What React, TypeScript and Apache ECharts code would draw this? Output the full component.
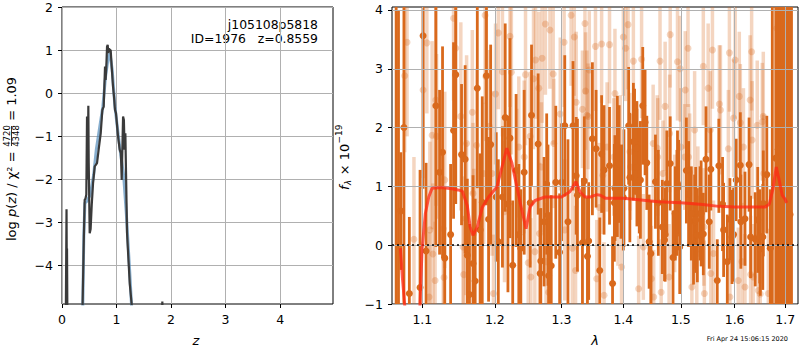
import React, { useEffect, useRef } from 'react';
import * as echarts from 'echarts';

const FONT = 'DejaVu Sans';

const zTicks = [0, 1, 2, 3, 4];
const logpTicks = [-4, -3, -2, -1, 0, 1, 2];
const lamTicks = [1.1, 1.2, 1.3, 1.4, 1.5, 1.6, 1.7];
const fluxTicks = [-1, 0, 1, 2, 3, 4];

// log p(z), raw (dark) curve: [z, log p]
const pzRaw = [
  [0.0, -6], [0.068, -5.5], [0.083, -2.69], [0.088, -4.2], [0.092, -3.6], [0.1, -5.5], [0.12, -6],
  [0.35, -6], [0.373, -5.2], [0.40, -3.4], [0.416, -2.47], [0.43, -2.45], [0.446, -2.35], [0.459, -0.54],
  [0.465, -2.0], [0.474, -1.8], [0.483, -0.29], [0.49, -1.6], [0.508, -3.25], [0.525, -3.15],
  [0.545, -2.6], [0.569, -2.1], [0.60, -1.7], [0.642, -1.62], [0.679, -1.24], [0.71, -0.93],
  [0.74, -0.39], [0.765, -0.31], [0.789, 0.62], [0.80, 0.31], [0.813, 0.62], [0.826, 1.08],
  [0.838, 1.12], [0.85, 0.93], [0.862, 1.04], [0.875, 1.0], [0.893, 1.0], [0.911, 0.62],
  [0.936, 0.15], [0.954, -0.08], [0.972, -0.39], [0.99, -0.46], [1.028, -1.0], [1.058, -1.31],
  [1.08, -1.39], [1.095, -2.01], [1.12, -0.54], [1.135, -0.62], [1.148, -1.31], [1.162, -0.93],
  [1.175, -1.9], [1.193, -3.25], [1.242, -4.41], [1.278, -4.9], [1.30, -6],
  [1.82, -6], [1.84, -4.83], [1.86, -6], [4.97, -6],
];

// smoothed (blue) curve
const pzSmooth = [
  [0.37, -6], [0.40, -3.3], [0.42, -2.55], [0.46, -2.5], [0.52, -2.35], [0.58, -1.9], [0.63, -1.3],
  [0.69, -0.8], [0.75, -0.3], [0.80, 0.4], [0.85, 0.85], [0.88, 0.92], [0.92, 0.55], [0.97, -0.3],
  [1.03, -0.95], [1.08, -1.45], [1.13, -1.9], [1.18, -2.8], [1.24, -4.1], [1.30, -5.5], [1.33, -6],
];

// spectrum points: [lambda, flux, error]
const darkPoints = [
  [1.066, 4.5, 6.0], [1.069, -1.5, 5.5], [1.072, 0.58, 1.0], [1.076, 2.0, 3.5], [1.083, -0.82, 1.3],
  [1.097, -0.72, 2.0], [1.101, 3.56, 2.6], [1.105, -0.10, 1.5], [1.118, 2.37, 2.4], [1.123, 1.24, 1.4],
  [1.127, 1.58, 1.8], [1.130, -0.22, 1.2], [1.138, 0.18, 1.2], [1.142, 1.95, 1.5], [1.145, 2.90, 2.2],
  [1.153, 1.54, 1.2], [1.158, 1.46, 1.6], [1.161, -0.17, 1.3], [1.164, -0.84, 1.2], [1.169, -0.31, 1.5],
  [1.172, -0.61, 1.4], [1.175, 2.67, 1.7], [1.179, 0.26, 1.3], [1.182, 0.73, 1.8], [1.188, 2.88, 2.2],
  [1.191, 0.44, 1.4], [1.194, 1.71, 1.7], [1.202, 0.82, 1.1], [1.205, 0.06, 1.4], [1.211, 0.82, 1.2],
  [1.215, 2.17, 1.6], [1.219, 0.70, 1.5], [1.222, 1.82, 1.7], [1.226, -0.34, 1.1], [1.231, 1.27, 1.3],
  [1.235, 0.18, 1.2], [1.238, -0.05, 1.0], [1.243, 1.24, 1.4], [1.252, 0.72, 1.1], [1.254, 2.21, 1.2],
  [1.264, 1.72, 1.2], [1.267, -0.48, 1.1], [1.268, -0.27, 0.9], [1.273, 0.40, 1.1], [1.277, 1.04, 1.2],
  [1.279, 0.51, 1.2], [1.280, -0.52, 1.0], [1.284, -0.35, 1.2], [1.291, 1.07, 1.3], [1.297, -0.12, 1.0],
  [1.300, 1.07, 1.0], [1.305, 2.03, 1.2], [1.310, 0.40, 1.4], [1.318, 2.03, 1.1], [1.323, 1.18, 1.0],
  [1.325, 0.85, 1.3], [1.333, 0.04, 1.1], [1.336, 1.09, 1.1], [1.341, -0.19, 1.0], [1.343, 0.07, 1.0],
  [1.349, 1.81, 1.3], [1.355, 1.64, 1.0], [1.361, -0.43, 0.9], [1.364, 1.55, 1.0], [1.368, 1.28, 1.1],
  [1.377, 1.35, 1.0], [1.382, -0.65, 0.8], [1.385, 0.72, 1.0], [1.386, 0.97, 0.9], [1.390, 1.34, 1.2],
  [1.393, 1.38, 1.0], [1.396, 0.91, 0.8], [1.400, 0.81, 0.9], [1.401, 0.97, 1.0], [1.409, 2.03, 1.0],
  [1.411, 1.15, 1.1], [1.417, 1.76, 1.0], [1.419, 1.76, 0.9], [1.423, 1.65, 0.8], [1.423, 1.32, 1.0],
  [1.427, 1.10, 0.9], [1.429, 1.11, 1.0], [1.433, 2.37, 1.0], [1.437, 2.09, 0.9], [1.440, 1.40, 0.8],
  [1.444, 0.06, 0.8], [1.447, -0.14, 0.9], [1.455, 1.08, 0.8], [1.460, 0.72, 0.9], [1.467, 0.31, 0.8],
  [1.471, 0.09, 0.7], [1.472, 0.18, 0.8], [1.475, 1.05, 0.9], [1.481, 1.39, 0.8], [1.486, -0.21, 0.8],
  [1.490, 0.54, 0.8], [1.493, 0.72, 0.9], [1.494, 1.05, 0.9], [1.496, 0.99, 0.8], [1.498, -0.03, 0.8],
  [1.510, 1.27, 0.9], [1.514, 0.87, 0.9], [1.519, 0.54, 0.8], [1.523, 0.03, 0.7], [1.525, 0.40, 0.8],
  [1.527, 0.43, 0.9], [1.530, 0.17, 0.8], [1.535, 0.54, 0.8], [1.537, 0.54, 0.9], [1.541, 0.19, 0.7],
  [1.546, 1.46, 0.9], [1.552, 0.40, 0.8], [1.555, 1.29, 0.7], [1.567, -0.60, 0.7], [1.570, 1.35, 0.8],
  [1.577, 0.70, 0.8], [1.579, 0.26, 0.8], [1.586, -0.28, 0.8], [1.591, 0.44, 0.7], [1.595, 0.14, 0.8],
  [1.598, 0.18, 0.8], [1.603, 1.11, 0.7], [1.611, 1.36, 0.9], [1.612, 0.40, 0.8], [1.620, 0.45, 0.8],
  [1.628, 1.37, 0.8], [1.631, 0.14, 0.7], [1.640, 0.10, 0.8], [1.645, 0.43, 0.9], [1.649, 0.15, 0.8],
  [1.650, -0.06, 0.8], [1.655, 0.14, 0.9], [1.656, 0.71, 0.9], [1.663, 1.20, 1.0], [1.670, -0.05, 1.0],
  [1.674, 4.6, 6.0], [1.681, 1.48, 5.0], [1.686, 1.63, 5.0], [1.690, -1.3, 6.0], [1.694, 4.3, 6.0],
  [1.698, -0.72, 5.0], [1.703, 0.90, 5.0], [1.706, 4.4, 6.0], [1.710, 0.52, 5.0], [1.713, -1.4, 6.0],
];

const lightPoints = [
  [1.077, 2.88, 1.3], [1.080, 3.45, 1.6], [1.089, 0.10, 1.4], [1.101, 2.64, 1.5], [1.106, 3.44, 1.2],
  [1.109, -0.88, 1.1], [1.110, 0.26, 1.5], [1.113, 1.87, 1.6], [1.114, -0.15, 1.2], [1.117, -0.60, 1.0],
  [1.118, 2.47, 1.8], [1.119, 1.85, 1.4], [1.128, 0.28, 1.3], [1.129, -0.55, 1.1], [1.130, 1.11, 1.5],
  [1.142, 3.86, 1.4], [1.145, 3.35, 1.2], [1.152, 2.19, 1.6], [1.155, -0.03, 1.2], [1.156, -0.50, 1.0],
  [1.159, 0.45, 1.3], [1.160, 1.73, 1.5], [1.168, 2.26, 1.4], [1.169, 0.88, 1.2], [1.170, 0.20, 1.1],
  [1.174, 1.70, 1.3], [1.184, 1.22, 1.2], [1.186, 3.91, 1.5], [1.187, 2.87, 1.1], [1.192, 2.02, 1.3],
  [1.196, 1.22, 1.4], [1.198, -0.82, 1.0], [1.201, 2.57, 1.2], [1.205, 3.61, 1.3], [1.211, 2.95, 1.1],
  [1.214, 0.57, 1.2], [1.222, 3.55, 1.2], [1.224, 2.94, 1.4], [1.232, 1.22, 1.1], [1.235, 1.67, 1.2],
  [1.243, 1.50, 1.3], [1.245, 2.90, 1.2], [1.249, -0.30, 1.0], [1.252, 1.85, 1.1], [1.253, -0.54, 1.0],
  [1.257, 2.83, 1.2], [1.259, -0.11, 1.1], [1.260, 3.15, 1.0], [1.265, 2.67, 1.3], [1.266, 0.20, 1.2],
  [1.269, 1.33, 1.1], [1.270, 3.18, 1.1], [1.275, 3.76, 1.2], [1.276, -0.28, 1.0], [1.280, -0.80, 0.9],
  [1.282, 3.66, 1.0], [1.287, 2.91, 1.2], [1.288, 1.73, 1.1], [1.298, 2.23, 1.3], [1.304, 3.45, 1.1],
  [1.305, 0.26, 1.2], [1.315, 3.91, 1.2], [1.317, -0.05, 1.0], [1.320, 3.54, 1.0], [1.322, -0.43, 1.1],
  [1.323, 2.43, 1.2], [1.333, 2.31, 1.0], [1.337, 3.77, 1.2], [1.338, 2.62, 1.0], [1.340, 2.21, 1.1],
  [1.342, 2.19, 0.9], [1.344, 2.98, 1.0], [1.354, 3.38, 1.1], [1.356, -0.57, 1.0], [1.360, 0.64, 1.1],
  [1.364, 3.42, 1.0], [1.366, 1.19, 1.0], [1.368, -0.85, 0.9], [1.373, 1.67, 1.1], [1.377, 3.41, 1.0],
  [1.384, 1.50, 1.0], [1.386, 2.58, 1.1], [1.391, 0.65, 1.0], [1.395, 1.65, 0.9], [1.397, -0.37, 1.0],
  [1.400, 3.54, 1.0], [1.404, 3.35, 0.9], [1.408, 3.75, 1.1], [1.411, 1.59, 1.0], [1.412, 1.33, 0.9],
  [1.417, 3.13, 1.0], [1.426, -0.74, 0.9], [1.431, 3.16, 1.0], [1.434, -0.03, 0.9], [1.448, -0.57, 0.9],
  [1.451, 1.73, 1.0], [1.452, -0.88, 0.8], [1.458, 1.65, 0.9], [1.459, 1.50, 1.0], [1.463, 3.13, 1.0],
  [1.465, -0.80, 0.9], [1.468, 1.22, 0.9], [1.472, 2.36, 1.1], [1.479, -0.54, 0.9], [1.480, 1.90, 1.0],
  [1.481, 3.58, 0.9], [1.489, 0.54, 1.0], [1.494, 3.12, 1.0], [1.499, 3.00, 0.9], [1.500, 1.67, 1.0],
  [1.507, 1.50, 0.9], [1.508, 2.64, 1.0], [1.513, 3.35, 1.0], [1.514, 1.50, 0.9], [1.516, 1.24, 1.0],
  [1.520, -0.71, 0.9], [1.525, 1.96, 1.0], [1.529, -0.14, 1.0], [1.531, 0.78, 0.9], [1.541, 3.04, 1.0],
  [1.542, 0.31, 1.0], [1.543, -0.82, 0.9], [1.550, 2.67, 1.1], [1.554, 1.96, 1.0], [1.555, -0.48, 0.9],
  [1.558, 3.32, 1.0], [1.560, -0.14, 0.9], [1.571, 2.40, 1.0], [1.573, 2.30, 1.1], [1.588, 1.64, 1.0],
  [1.590, 3.27, 1.0], [1.591, -0.88, 0.9], [1.598, 2.16, 1.0], [1.601, 3.15, 1.0], [1.607, -0.60, 0.9],
  [1.609, 2.53, 1.1], [1.611, 2.08, 1.0], [1.614, -0.28, 1.0], [1.617, 1.67, 1.0], [1.620, -0.71, 0.9],
  [1.630, 2.47, 1.1], [1.631, -0.50, 1.0], [1.633, 3.29, 1.0], [1.634, 1.79, 1.0], [1.636, -0.54, 0.9],
  [1.644, 2.04, 1.1], [1.646, -0.77, 0.9], [1.650, -0.83, 1.0], [1.654, 2.10, 1.0], [1.656, 2.19, 1.1],
  [1.657, 1.22, 1.0], [1.666, -0.82, 1.1], [1.683, 3.69, 1.6], [1.686, 3.75, 2.0], [1.697, -0.71, 2.0],
];

// best-fit model: [lambda, flux]
const modelLine = [
  [1.0715, -0.05], [1.074, -0.55], [1.0775, -1.1], [1.085, -2.5], [1.092, -2.2], [1.097, -1.0],
  [1.0996, -0.08], [1.104, 0.54], [1.1085, 0.82], [1.113, 0.97], [1.125, 0.98], [1.14, 0.96],
  [1.148, 0.94], [1.154, 0.92], [1.161, 0.67], [1.165, 0.31], [1.169, 0.17], [1.175, 0.31],
  [1.182, 0.64], [1.191, 0.82], [1.203, 0.99], [1.208, 1.22], [1.2173, 1.65], [1.2247, 1.4],
  [1.232, 1.0], [1.2394, 0.6], [1.2458, 0.28], [1.2518, 0.65], [1.2593, 0.76], [1.2745, 0.82],
  [1.30, 0.82], [1.313, 0.91], [1.3225, 1.08], [1.329, 0.91], [1.337, 0.82], [1.346, 0.82],
  [1.356, 0.86], [1.362, 0.85], [1.37, 0.80], [1.40, 0.80], [1.43, 0.77], [1.46, 0.74], [1.50, 0.72],
  [1.54, 0.69], [1.57, 0.66], [1.60, 0.65], [1.63, 0.65], [1.66, 0.65], [1.668, 0.70], [1.675, 0.95],
  [1.682, 1.33], [1.688, 1.1], [1.694, 0.85], [1.70, 0.78], [1.703, 0.72],
];

const ORANGE = '#d9691c';
const GRIDC = '#b0b0b0';
const minus = (v: number | string) => String(v).replace('-', '\u2212');

function errorSeries(data: number[][], color: string, opacity: number, width: number, z: number) {
  return {
    type: 'custom',
    xAxisIndex: 1,
    yAxisIndex: 1,
    clip: true,
    z,
    silent: true,
    data: data.map((d) => [d[0], d[1] - d[2], d[1] + d[2]]),
    encode: { x: 0, y: [1, 2] },
    renderItem: (_params: any, api: any) => {
      const x = api.value(0);
      const p1 = api.coord([x, api.value(1)]);
      const p2 = api.coord([x, api.value(2)]);
      return {
        type: 'line',
        shape: { x1: p1[0], y1: p1[1], x2: p2[0], y2: p2[1] },
        style: { stroke: color, lineWidth: width, opacity },
      };
    },
  };
}

const tickLabel = { fontFamily: FONT, fontSize: 12.5, color: '#000' };

export default function App() {
  const ref = useRef<HTMLDivElement>(null);
  useEffect(() => {
    if (!ref.current) return;
    const chart = echarts.init(ref.current, undefined, { renderer: 'svg' });
    const option: any = {
      animation: false,
      backgroundColor: '#fff',
      grid: [
        { left: 62, top: 7, width: 271, height: 297, show: true, borderColor: '#000', borderWidth: 1, backgroundColor: 'transparent' },
        { left: 392, top: 7, width: 406, height: 297, show: true, borderColor: '#000', borderWidth: 1, backgroundColor: 'transparent' },
      ],
      xAxis: [
        {
          type: 'value', gridIndex: 0, min: 0, max: 4.97,
          axisLine: { show: false, onZero: false },
          axisTick: { show: true, length: 4, lineStyle: { color: '#000' }, customValues: zTicks },
          axisLabel: { ...tickLabel, margin: 9, customValues: zTicks, formatter: (v: number) => minus(v) },
          splitLine: { show: true, lineStyle: { color: GRIDC, width: 1 } },
        },
        {
          type: 'log', gridIndex: 1, min: 1.0607, max: 1.7264, logBase: 10, z: 5,
          axisLine: { show: false, onZero: false },
          axisTick: { show: true, length: 4, lineStyle: { color: '#000' }, customValues: lamTicks },
          axisLabel: { ...tickLabel, margin: 9, customValues: lamTicks, formatter: (v: number) => v.toFixed(1) },
          splitLine: { show: true, lineStyle: { color: GRIDC, width: 1 } },
          minorTick: { show: false }, minorSplitLine: { show: false },
        },
      ],
      yAxis: [
        {
          type: 'value', gridIndex: 0, min: -4.89, max: 2,
          axisLine: { show: false, onZero: false },
          axisTick: { show: true, length: 4, lineStyle: { color: '#000' }, customValues: logpTicks },
          axisLabel: { ...tickLabel, margin: 9, customValues: logpTicks, formatter: (v: number) => minus(v) },
          splitLine: { show: true, lineStyle: { color: GRIDC, width: 1 } },
        },
        {
          type: 'value', gridIndex: 1, min: -1, max: 4.05, z: 5,
          axisLine: { show: false, onZero: false },
          axisTick: { show: true, length: 4, lineStyle: { color: '#000' }, customValues: fluxTicks },
          axisLabel: { ...tickLabel, margin: 9, customValues: fluxTicks, formatter: (v: number) => minus(v) },
          splitLine: { show: true, lineStyle: { color: GRIDC, width: 1 } },
        },
      ],
      series: [
        {
          type: 'line', xAxisIndex: 0, yAxisIndex: 0, data: pzSmooth, showSymbol: false, clip: true, z: 2,
          lineStyle: { color: 'rgba(70,130,180,0.65)', width: 3 },
        },
        {
          type: 'line', xAxisIndex: 0, yAxisIndex: 0, data: pzRaw, showSymbol: false, clip: true, z: 3,
          lineStyle: { color: '#3a3a3a', width: 2.2 },
        },
        errorSeries(lightPoints, ORANGE, 0.28, 3.5, 2),
        {
          type: 'scatter', xAxisIndex: 1, yAxisIndex: 1, clip: true, z: 2,
          data: lightPoints.map((d) => [d[0], d[1]]), symbolSize: 7,
          itemStyle: { color: ORANGE, opacity: 0.28 },
        },
        errorSeries(darkPoints, ORANGE, 1, 2.8, 3),
        {
          type: 'scatter', xAxisIndex: 1, yAxisIndex: 1, clip: true, z: 3,
          data: darkPoints.map((d) => [d[0], d[1]]), symbolSize: 7,
          itemStyle: { color: ORANGE, opacity: 1 },
        },
        {
          type: 'line', xAxisIndex: 1, yAxisIndex: 1, data: modelLine, showSymbol: false, clip: true, z: 8,
          lineStyle: { color: 'rgba(255,40,20,0.75)', width: 3 },
          markLine: {
            silent: true, symbol: 'none', label: { show: false },
            lineStyle: { color: '#000', type: [2, 3], width: 1.5 },
            data: [{ yAxis: 0 }],
          },
        },
      ],
      graphic: [
        {
          type: 'text', x: 318, y: 24,
          style: { text: 'j105108p5818', fontFamily: FONT, fontSize: 12.4, fill: '#000', align: 'right', verticalAlign: 'middle' },
        },
        {
          type: 'text', x: 318, y: 38.5,
          style: { text: 'ID=1976   z=0.8559', fontFamily: FONT, fontSize: 12.4, fill: '#000', align: 'right', verticalAlign: 'middle' },
        },
        {
          type: 'text', x: 196, y: 340,
          style: { text: 'z', fontFamily: FONT, fontStyle: 'italic', fontSize: 13, fill: '#000', align: 'center', verticalAlign: 'middle' },
        },
        {
          type: 'text', x: 595, y: 340,
          style: { text: '\u03bb', fontFamily: FONT, fontStyle: 'italic', fontSize: 13, fill: '#000', align: 'center', verticalAlign: 'middle' },
        },
        {
          type: 'group', x: 11.5, y: 156, rotation: Math.PI / 2,
          children: [
            {
              type: 'text', x: -85, y: 0,
              style: {
                text: 'log {i|p}({i|z}) / \u03c7\u00b2 = ',
                rich: { i: { fontFamily: FONT, fontStyle: 'italic', fontSize: 13, fill: '#000' } },
                fontFamily: FONT, fontSize: 13, fill: '#000', align: 'left', verticalAlign: 'middle',
              },
            },
            {
              type: 'text', x: 20, y: -4.5,
              style: { text: '4720', fontFamily: FONT, fontSize: 8.5, fill: '#000', align: 'center', verticalAlign: 'middle' },
            },
            { type: 'line', shape: { x1: 10, y1: 0, x2: 30, y2: 0 }, style: { stroke: '#000', lineWidth: 0.8 } },
            {
              type: 'text', x: 20, y: 4.8,
              style: { text: '4348', fontFamily: FONT, fontSize: 8.5, fill: '#000', align: 'center', verticalAlign: 'middle' },
            },
            {
              type: 'text', x: 31, y: 0,
              style: { text: ' = 1.09', fontFamily: FONT, fontSize: 13, fill: '#000', align: 'left', verticalAlign: 'middle' },
            },
          ],
        },
        {
          type: 'group', x: 344, y: 157, rotation: Math.PI / 2,
          children: [
            {
              type: 'text', x: -33, y: 0,
              style: { text: 'f', fontFamily: FONT, fontStyle: 'italic', fontSize: 13, fill: '#000', align: 'left', verticalAlign: 'middle' },
            },
            {
              type: 'text', x: -28, y: 3.5,
              style: { text: '\u03bb', fontFamily: FONT, fontStyle: 'italic', fontSize: 8.5, fill: '#000', align: 'left', verticalAlign: 'middle' },
            },
            {
              type: 'text', x: -22.5, y: 0,
              style: { text: ' \u00d7 10', fontFamily: FONT, fontSize: 13, fill: '#000', align: 'left', verticalAlign: 'middle' },
            },
            {
              type: 'text', x: 13.5, y: -5,
              style: { text: '\u221219', fontFamily: FONT, fontSize: 9, fill: '#000', align: 'left', verticalAlign: 'middle' },
            },
          ],
        },
        {
          type: 'text', x: 788, y: 339,
          style: { text: 'Fri Apr 24 15:06:15 2020', fontFamily: FONT, fontSize: 6.5, fill: '#000', align: 'right', verticalAlign: 'middle' },
        },
      ],
    };
    chart.setOption(option);
    return () => chart.dispose();
  }, []);
  return (
    <div
      ref={ref}
      style={{ position: 'fixed', left: 0, top: 0, width: 800, height: 350, background: '#fff' }}
    />
  );
}
